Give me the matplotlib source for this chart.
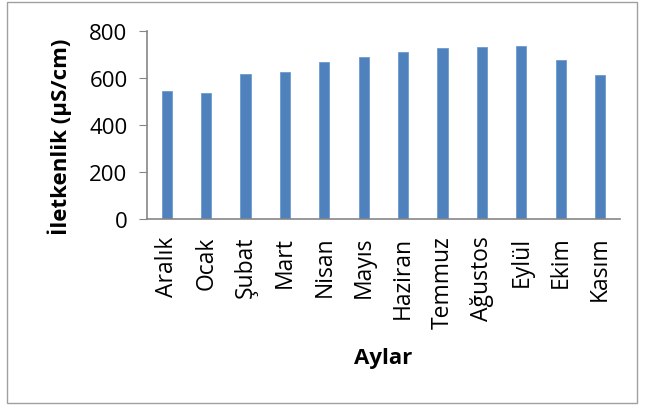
import matplotlib
matplotlib.use("Agg")
import matplotlib.pyplot as plt
from matplotlib.patches import Rectangle

# Monthly conductivity values
months = ["Aralık", "Ocak", "Şubat", "Mart", "Nisan", "Mayıs",
          "Haziran", "Temmuz", "Ağustos", "Eylül", "Ekim", "Kasım"]
conductivity = [543, 536, 616, 624, 667, 688, 709, 726, 732, 736, 675, 611]
yticks = [0, 200, 400, 600, 800]

plt.rcParams["font.family"] = ["Open Sans", "DejaVu Sans"]

fig = plt.figure(figsize=(6.45, 4.06), dpi=100)
ax = fig.add_axes([0.228, 0.458, 0.733, 0.463])

x = range(len(months))
ax.bar(x, conductivity, width=0.26, color="#4F81BD", edgecolor="#6F9BD1", linewidth=0.6)

ax.set_xlim(-0.5, len(months) - 0.5)
ax.set_ylim(0, 800)
ax.set_yticks(yticks)
ax.set_yticklabels([str(v) for v in yticks], fontsize=16)
ax.set_xticks(list(x))
ax.set_xticklabels(months, rotation=90, fontsize=16.5)
ax.tick_params(axis="x", length=0, pad=12)
ax.tick_params(axis="y", length=6, color="#868686", pad=8)

for side in ["top", "right"]:
    ax.spines[side].set_visible(False)
for side in ["left", "bottom"]:
    ax.spines[side].set_color("#868686")
    ax.spines[side].set_linewidth(1.2)

fig.text(0.093, 0.663, "İletkenlik (µS/cm)", rotation=90, ha="center", va="center",
         fontsize=16, fontweight="bold")
fig.text(0.594, 0.118, "Aylar", ha="center", va="center", fontsize=16, fontweight="bold")

# light frame around the whole chart
fig.patches.append(Rectangle((0.011, 0.005), 0.977, 0.988, transform=fig.transFigure,
                             fill=False, edgecolor="#A0A0A0", linewidth=1.0))

fig.savefig("out.png", dpi=100)
